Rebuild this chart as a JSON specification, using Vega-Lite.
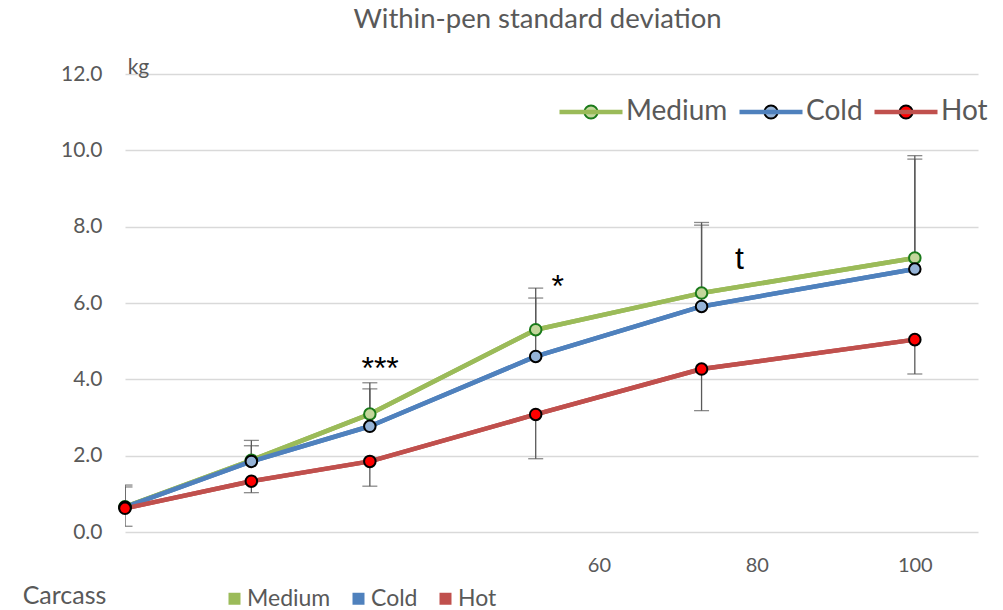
{
  "$schema": "https://vega.github.io/schema/vega-lite/v6.json",
  "width": 853,
  "height": 458,
  "autosize": {"type": "none"},
  "padding": {"left": 125, "top": 74, "right": 25, "bottom": 78},
  "background": "white",
  "title": {
    "text": "Within-pen standard deviation",
    "font": "Lato",
    "fontSize": 27.5,
    "fontWeight": "normal",
    "color": "#595959",
    "anchor": "middle",
    "frame": "group",
    "offset": 1,
    "baseline": "alphabetic",
    "dx": -14
  },
  "config": {
    "view": {"stroke": null},
    "font": "Lato",
    "axisX": {
      "grid": false, "ticks": false, "domain": false,
      "labelFont": "Lato", "labelFontSize": 20, "labelColor": "#595959", "labelPadding": 23,
      "titleFont": "Lato", "titleFontSize": 25, "titleFontWeight": "normal", "titleColor": "#595959",
      "titleX": -61, "titleY": 63, "titleAlign": "center", "titleBaseline": "middle"
    },
    "axisY": {
      "grid": true, "gridColor": "#D9D9D9", "gridWidth": 1.3, "ticks": false, "domain": false,
      "labelFont": "Lato", "labelFontSize": 21, "labelColor": "#595959", "labelPadding": 23,
      "titleAngle": 0, "titleX": 13, "titleY": -1, "titleAlign": "center", "titleBaseline": "alphabetic",
      "titleFont": "Lato", "titleFontSize": 21, "titleFontWeight": "normal", "titleColor": "#595959"
    }
  },
  "resolve": {"scale": {"color": "independent"}},
  "datasets": {
    "means": [
      {"series": "Medium", "x": 0, "y": 0.66},
      {"series": "Medium", "x": 16, "y": 1.88},
      {"series": "Medium", "x": 31, "y": 3.09},
      {"series": "Medium", "x": 52, "y": 5.3},
      {"series": "Medium", "x": 73, "y": 6.26},
      {"series": "Medium", "x": 100, "y": 7.18},
      {"series": "Cold", "x": 0, "y": 0.65},
      {"series": "Cold", "x": 16, "y": 1.85},
      {"series": "Cold", "x": 31, "y": 2.77},
      {"series": "Cold", "x": 52, "y": 4.6},
      {"series": "Cold", "x": 73, "y": 5.91},
      {"series": "Cold", "x": 100, "y": 6.89},
      {"series": "Hot", "x": 0, "y": 0.62},
      {"series": "Hot", "x": 16, "y": 1.33},
      {"series": "Hot", "x": 31, "y": 1.85},
      {"series": "Hot", "x": 52, "y": 3.08},
      {"series": "Hot", "x": 73, "y": 4.27},
      {"series": "Hot", "x": 100, "y": 5.04}
    ],
    "bars": [
      {"series": "Medium", "x": 0, "y": 0.66, "cap": 1.23},
      {"series": "Medium", "x": 16, "y": 1.88, "cap": 2.4},
      {"series": "Medium", "x": 31, "y": 3.09, "cap": 3.91},
      {"series": "Medium", "x": 52, "y": 5.3, "cap": 6.39},
      {"series": "Medium", "x": 73, "y": 6.26, "cap": 8.11},
      {"series": "Medium", "x": 100, "y": 7.18, "cap": 9.86},
      {"series": "Cold", "x": 0, "y": 0.65, "cap": 1.18},
      {"series": "Cold", "x": 16, "y": 1.85, "cap": 2.26},
      {"series": "Cold", "x": 31, "y": 2.77, "cap": 3.75},
      {"series": "Cold", "x": 52, "y": 4.6, "cap": 6.13},
      {"series": "Cold", "x": 73, "y": 5.91, "cap": 8.04},
      {"series": "Cold", "x": 100, "y": 6.89, "cap": 9.77},
      {"series": "Hot", "x": 0, "y": 0.62, "cap": 0.15},
      {"series": "Hot", "x": 16, "y": 1.33, "cap": 1.03},
      {"series": "Hot", "x": 31, "y": 1.85, "cap": 1.2},
      {"series": "Hot", "x": 52, "y": 3.08, "cap": 1.92},
      {"series": "Hot", "x": 73, "y": 4.27, "cap": 3.18},
      {"series": "Hot", "x": 100, "y": 5.04, "cap": 4.14}
    ],
    "notes": [
      {"x": 32.3, "y": 4.02, "label": "***"},
      {"x": 54.8, "y": 6.17, "label": "*"},
      {"x": 77.8, "y": 6.89, "label": "t"}
    ]
  },
  "layer": [
    {
      "data": {"name": "bars"},
      "mark": {"type": "rule", "color": "#595959", "strokeWidth": 1.3, "clip": true},
      "encoding": {
        "x": {"field": "x", "type": "quantitative", "scale": {"domain": [0, 108], "nice": false, "zero": false}, "title": "Carcass", "axis": {"values": [60, 80, 100]}},
        "y": {"field": "y", "type": "quantitative", "scale": {"domain": [0, 12], "nice": false}, "title": "kg", "axis": {"values": [0, 2, 4, 6, 8, 10, 12], "format": ".1f"}},
        "y2": {"field": "cap"}
      }
    },
    {
      "data": {"name": "bars"},
      "mark": {"type": "tick", "orient": "horizontal", "size": 15, "thickness": 1.3, "color": "#595959", "clip": true},
      "encoding": {
        "x": {"field": "x", "type": "quantitative", "title": "Carcass"},
        "y": {"field": "cap", "type": "quantitative", "title": "kg"}
      }
    },
    {
      "data": {"name": "means"},
      "mark": {"type": "line", "strokeWidth": 4.5, "strokeJoin": "round", "strokeCap": "round"},
      "encoding": {
        "x": {"field": "x", "type": "quantitative", "title": "Carcass"},
        "y": {"field": "y", "type": "quantitative", "title": "kg"},
        "color": {
          "field": "series", "type": "nominal",
          "scale": {"domain": ["Medium", "Cold", "Hot"], "range": ["#9BBB59", "#4F81BD", "#C0504D"]},
          "legend": {
            "orient": "none", "legendX": 98, "legendY": 513, "direction": "horizontal", "title": null,
            "symbolType": "square", "symbolSize": 36, "symbolStrokeWidth": 6,
            "labelFont": "Lato", "labelFontSize": 23, "labelColor": "#595959", "labelOffset": 1,
            "columnPadding": 12, "padding": 0
          }
        }
      }
    },
    {
      "data": {"name": "means"},
      "mark": {"type": "line", "strokeWidth": 4.5, "strokeJoin": "round", "strokeCap": "round"},
      "encoding": {
        "x": {"field": "x", "type": "quantitative", "title": "Carcass"},
        "y": {"field": "y", "type": "quantitative", "title": "kg"},
        "color": {
          "field": "series", "type": "nominal",
          "scale": {"domain": ["Medium", "Cold", "Hot"], "range": ["#9BBB59", "#4F81BD", "#C0504D"]},
          "legend": {
            "orient": "none", "legendX": 432, "legendY": 4, "direction": "horizontal", "title": null,
            "symbolType": "stroke", "symbolSize": 3969, "symbolStrokeWidth": 4.5,
            "labelFont": "Lato", "labelFontSize": 28, "labelColor": "#595959", "labelOffset": 1,
            "columnPadding": 2, "padding": 0
          }
        }
      }
    },
    {
      "data": {"name": "means"},
      "mark": {"type": "point", "filled": true, "size": 133, "strokeWidth": 2, "opacity": 1},
      "encoding": {
        "x": {"field": "x", "type": "quantitative", "title": "Carcass"},
        "y": {"field": "y", "type": "quantitative", "title": "kg"},
        "fill": {
          "field": "series", "type": "nominal",
          "scale": {"domain": ["Medium", "Cold", "Hot"], "range": ["#C3D69B", "#95B3D7", "#FF0000"]},
          "legend": {
            "orient": "none", "legendX": 432, "legendY": 4, "direction": "horizontal", "title": null,
            "symbolType": "M-0.2,0A0.2,0.2,0,1,0,0.2,0A0.2,0.2,0,1,0,-0.2,0Z",
            "symbolSize": 4356, "symbolStrokeWidth": 2, "symbolOpacity": 1,
            "labelFont": "Lato", "labelFontSize": 28, "labelColor": "#595959", "labelOpacity": 0, "labelOffset": 1,
            "columnPadding": 9, "padding": 0
          }
        },
        "stroke": {
          "field": "series", "type": "nominal",
          "scale": {"domain": ["Medium", "Cold", "Hot"], "range": ["#1A7A1A", "#000000", "#000000"]},
          "legend": {
            "orient": "none", "legendX": 432, "legendY": 4, "direction": "horizontal", "title": null,
            "symbolType": "M-0.2,0A0.2,0.2,0,1,0,0.2,0A0.2,0.2,0,1,0,-0.2,0Z",
            "symbolSize": 4356, "symbolStrokeWidth": 2, "symbolOpacity": 1,
            "labelFont": "Lato", "labelFontSize": 28, "labelColor": "#595959", "labelOpacity": 0, "labelOffset": 1,
            "columnPadding": 9, "padding": 0
          }
        }
      }
    },
    {
      "data": {"name": "notes"},
      "mark": {"type": "text", "font": "Liberation Sans", "fontSize": 32, "color": "#000000", "align": "center", "baseline": "alphabetic"},
      "encoding": {
        "x": {"field": "x", "type": "quantitative", "title": "Carcass"},
        "y": {"field": "y", "type": "quantitative", "title": "kg"},
        "text": {"field": "label"}
      }
    }
  ]
}
